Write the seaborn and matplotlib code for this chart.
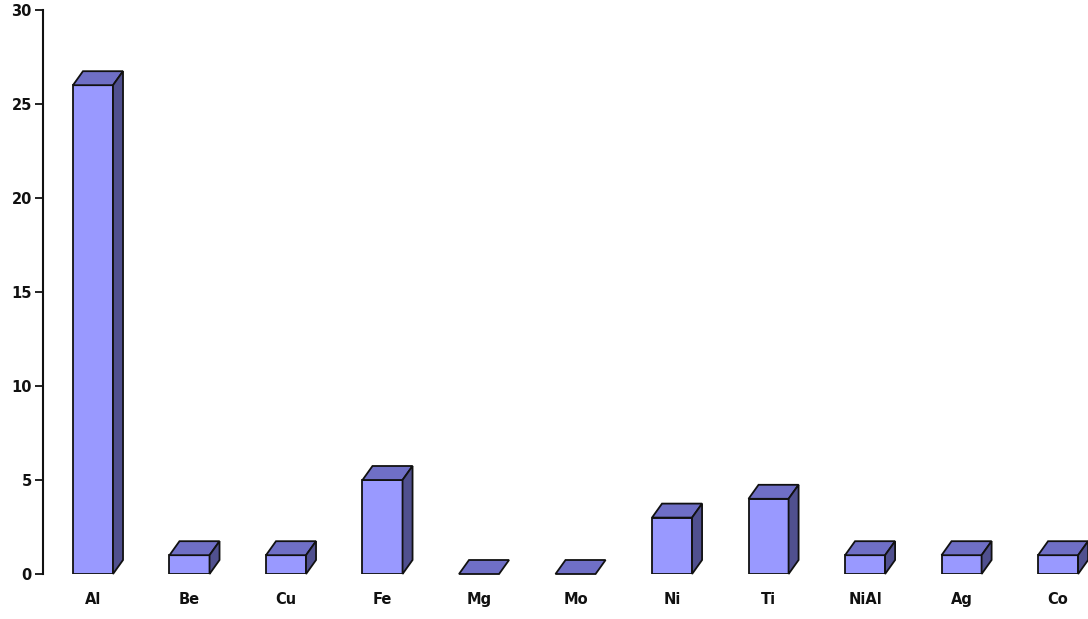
import matplotlib
matplotlib.use("Agg")
import matplotlib.pyplot as plt
from matplotlib.patches import Polygon
import seaborn as sns
import pandas as pd

metals = ["Al", "Be", "Cu", "Fe", "Mg", "Mo", "Ni", "Ti", "NiAl", "Ag", "Co"]
counts = [26, 1, 1, 5, 0, 0, 3, 4, 1, 1, 1]
y_ticks = [0, 5, 10, 15, 20, 25, 30]

front_color = "#9999ff"
top_color = "#6f6fc6"
side_color = "#50508f"
edge_color = "#111111"

sns.set_theme(style="white")
plt.rcParams["font.family"] = ["DejaVu Sans"]

W, H = 1088, 619
fig = plt.figure(figsize=(W / 100, H / 100), dpi=100)
left_px, right_px, bottom_px, top_px = 43, 1088, 574, 10
ax = fig.add_axes([left_px / W, 1 - bottom_px / H,
                   (right_px - left_px) / W, (bottom_px - top_px) / H])

df = pd.DataFrame({"metal": metals, "count": counts})
bar_width = 0.415
sns.barplot(data=df, x="metal", y="count", ax=ax, color=front_color,
            width=bar_width, saturation=1, edgecolor=edge_color, linewidth=1.3,
            zorder=3)

xmin, xmax = -0.518, 10.31
ax.set_xlim(xmin, xmax)
ax.set_ylim(0, 30)

# depth of the box in pixels converted to data units
ax_w_px = right_px - left_px
ax_h_px = bottom_px - top_px
dx = 10 * (xmax - xmin) / ax_w_px
dy = 14 * 30 / ax_h_px

for rect in list(ax.patches):
    x0 = rect.get_x()
    w = rect.get_width()
    h = rect.get_height()
    x1 = x0 + w
    top = Polygon([(x0, h), (x1, h), (x1 + dx, h + dy), (x0 + dx, h + dy)],
                  closed=True, facecolor=top_color, edgecolor=edge_color,
                  linewidth=1.3, zorder=4, clip_on=False)
    ax.add_patch(top)
    if h > 0:
        side = Polygon([(x1, 0), (x1 + dx, dy), (x1 + dx, h + dy), (x1, h)],
                       closed=True, facecolor=side_color, edgecolor=edge_color,
                       linewidth=1.3, zorder=4, clip_on=False)
        ax.add_patch(side)

ax.set_yticks(y_ticks)
ax.set_yticklabels([str(v) for v in y_ticks], fontsize=10.5, fontweight="bold",
                   color="#111111")
ax.set_xticklabels(metals, fontsize=10.5, fontweight="bold", color="#111111")
ax.tick_params(axis="y", direction="out", length=6, width=1.3, color="#111111",
               left=True, pad=2)
ax.tick_params(axis="x", length=0, pad=13)
ax.set_xlabel("")
ax.set_ylabel("")

for s in ["top", "right", "bottom"]:
    ax.spines[s].set_visible(False)
ax.spines["left"].set_color("#111111")
ax.spines["left"].set_linewidth(1.5)
ax.grid(False)

fig.savefig("out.png", dpi=100)
